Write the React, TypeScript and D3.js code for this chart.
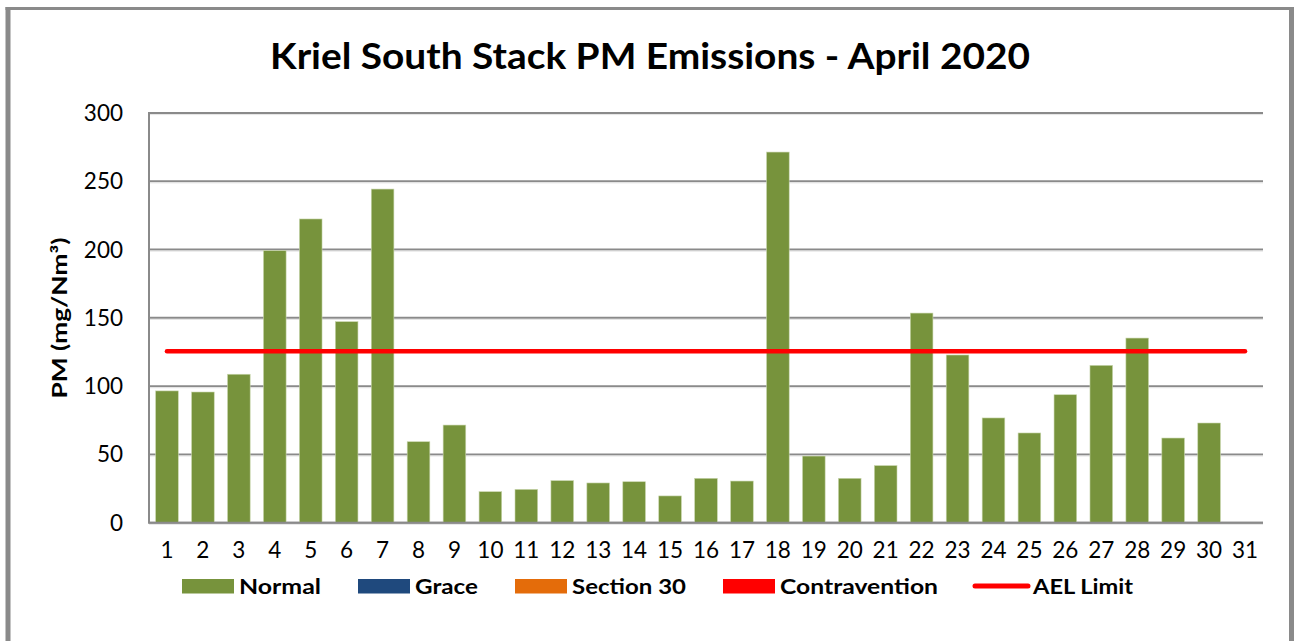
import React from "react";
import * as d3 from "d3";

const days: string[] = Array.from({ length: 31 }, (_, i) => String(i + 1));
const normal: (number | null)[] = [
  96.5, 95.7, 108.7, 199.2, 222.4, 147.2, 244.3, 59.3, 71.5, 22.7,
  24.4, 30.8, 29.1, 30.0, 19.6, 32.5, 30.5, 271.4, 48.8, 32.5,
  41.8, 153.5, 122.8, 76.7, 65.7, 93.7, 115.2, 135.2, 62.0, 73.0, null,
];
const aelLimit = 125.5;
const yTicks = [0, 50, 100, 150, 200, 250, 300];
const legendItems = [
  { label: "Normal", color: "#77933C", kind: "rect", x: 182, tx: 239, tw: 82 },
  { label: "Grace", color: "#1F497D", kind: "rect", x: 358, tx: 415, tw: 63 },
  { label: "Section 30", color: "#E46C0A", kind: "rect", x: 515, tx: 572, tw: 114 },
  { label: "Contravention", color: "#FF0000", kind: "rect", x: 723, tx: 780, tw: 158 },
  { label: "AEL Limit", color: "#FF0000", kind: "line", x: 974, tx: 1033, tw: 100 },
];

const FONT = "Lato, 'Open Sans', 'DejaVu Sans', sans-serif";

export default function App() {
  const W = 1300;
  const H = 641;
  const left = 149;
  const right = 1263;
  const top = 113;
  const bottom = 522.7;

  const x = d3.scaleBand<string>().domain(days).range([left, right]).paddingInner(0.37).paddingOuter(0.185);
  const y = d3.scaleLinear().domain([0, 300]).range([bottom, top]);
  const cx = (d: string) => (x(d) as number) + x.bandwidth() / 2;

  const aelPath = d3.line<string>()
    .x((d) => cx(d))
    .y(() => y(aelLimit))([days[0], days[days.length - 1]]) as string;

  return (
    <svg width={W} height={H} style={{ display: "block", position: "absolute", left: 0, top: 0 }}>
      <rect x={0} y={0} width={W} height={H} fill="#ffffff" />
      {/* outer frame */}
      <line x1={8} x2={8} y1={7} y2={H} stroke="#8a8a8a" strokeWidth={5} />
      <line x1={1291.5} x2={1291.5} y1={7} y2={H} stroke="#8a8a8a" strokeWidth={5} />
      <line x1={5.5} x2={1294} y1={8.5} y2={8.5} stroke="#8a8a8a" strokeWidth={3} />

      {/* title */}
      <text x={650} y={69} textAnchor="middle" fontFamily={FONT} fontWeight="bold" fontSize={37}
        textLength={760} lengthAdjust="spacingAndGlyphs" fill="#000">
        Kriel South Stack PM Emissions - April 2020
      </text>

      {/* gridlines */}
      {yTicks.map((t) => (
        <g key={t}>
          <line x1={left - 1} x2={right} y1={y(t)} y2={y(t)} stroke="#8a8a8a" strokeWidth={2} />
          <line x1={left} x2={right} y1={y(t) + 1.6} y2={y(t) + 1.6} stroke="#e4e4e4" strokeWidth={1} />
          <text x={123} y={y(t) + 8} textAnchor="end" fontFamily={FONT} fontSize={22.5} fill="#000">
            {t}
          </text>
        </g>
      ))}
      <line x1={left} x2={left} y1={top} y2={bottom} stroke="#8a8a8a" strokeWidth={2} />

      {/* bars */}
      {days.map((d, i) =>
        normal[i] == null ? null : (
          <rect key={d} x={x(d)} y={y(normal[i] as number)} width={x.bandwidth()}
            height={y(0) - y(normal[i] as number)} fill="#77933C" stroke="#c9d6ad" strokeWidth={0.6} />
        )
      )}
      <line x1={left} x2={right} y1={bottom} y2={bottom} stroke="#8a8a8a" strokeWidth={2} />

      {/* AEL limit */}
      <path d={aelPath} stroke="#FF0000" strokeWidth={4.5} strokeLinecap="round" fill="none" />

      {/* x labels */}
      {days.map((d) => (
        <text key={d} x={cx(d)} y={558} textAnchor="middle" fontFamily={FONT} fontSize={22.5} fill="#000">
          {d}
        </text>
      ))}

      {/* y axis title */}
      <text transform={`translate(67,318) rotate(-90)`} textAnchor="middle" fontFamily={FONT}
        fontWeight="bold" fontSize={21} textLength={161} lengthAdjust="spacingAndGlyphs" fill="#000">
        PM (mg/Nm³)
      </text>

      {/* legend */}
      {legendItems.map((it) => (
        <g key={it.label}>
          {it.kind === "rect" ? (
            <rect x={it.x} y={579} width={52} height={14.5} fill={it.color} />
          ) : (
            <line x1={it.x + 1} x2={it.x + 54} y1={586} y2={586} stroke={it.color} strokeWidth={5} strokeLinecap="round" />
          )}
          <text x={it.tx} y={594} fontFamily={FONT} fontWeight="bold" fontSize={21.5}
            textLength={it.tw} lengthAdjust="spacingAndGlyphs" fill="#000">
            {it.label}
          </text>
        </g>
      ))}
    </svg>
  );
}
